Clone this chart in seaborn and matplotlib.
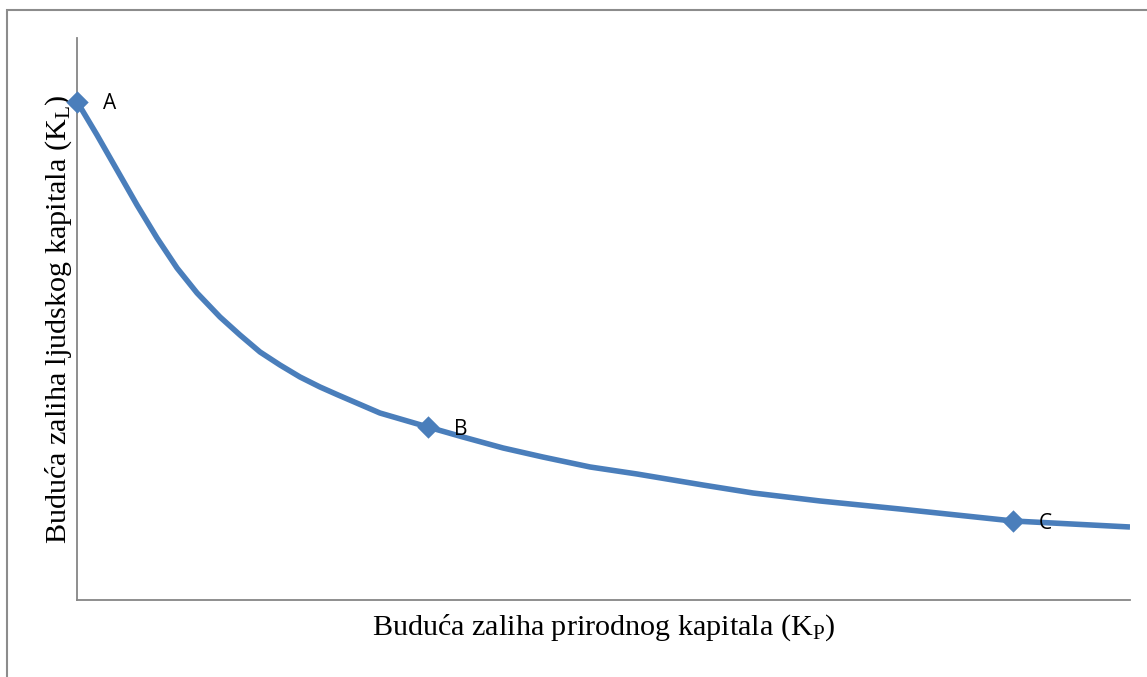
import matplotlib
matplotlib.use("Agg")
import matplotlib.pyplot as plt
import seaborn as sns
import pandas as pd
from matplotlib.patches import Rectangle

# Data (arbitrary units, no ticks shown)
kp = [0.0, 1.90, 3.80, 5.70, 7.60, 9.50, 11.40, 13.58, 15.48, 17.38, 19.28,
      21.18, 23.08, 24.79, 28.77, 33.33, 36.66, 40.46, 44.25, 48.72, 53.18,
      59.45, 64.20, 70.56, 78.16, 88.89, 100.0]
kl = [88.7, 82.74, 76.51, 70.28, 64.41, 59.07, 54.63, 50.36, 47.15, 44.13, 41.81,
      39.68, 37.90, 36.48, 33.27, 30.78, 29.00, 27.05, 25.44, 23.67, 22.42,
      20.46, 19.04, 17.62, 16.19, 14.06, 12.99]
point_labels = ["A", "B", "C"]
point_kp = [0.0, 33.33, 88.89]
point_kl = [88.7, 30.78, 14.06]

x_label = "Buduća zaliha prirodnog kapitala (K$_\\mathrm{P}$)"
y_label = "Buduća zaliha ljudskog kapitala (K$_\\mathrm{L}$)"

sns.set_theme(style="white")
plt.rcParams["font.family"] = ["Liberation Serif", "DejaVu Serif"]
plt.rcParams["mathtext.fontset"] = "custom"
plt.rcParams["mathtext.rm"] = "Liberation Serif"
plt.rcParams["mathtext.it"] = "Liberation Serif:italic"

blue = "#4A7EBB"

fig = plt.figure(figsize=(11.47, 6.77), dpi=100)
ax = fig.add_axes([77 / 1147, 77 / 677, (1130 - 77) / 1147, (600 - 38) / 677])

df = pd.DataFrame({"kp": kp, "kl": kl})
sns.lineplot(data=df, x="kp", y="kl", ax=ax, color=blue, linewidth=4.0,
             sort=False, solid_capstyle="butt", solid_joinstyle="round")
pts = pd.DataFrame({"kp": point_kp, "kl": point_kl})
sns.scatterplot(data=pts, x="kp", y="kl", ax=ax, color=blue, marker="D",
                s=130, edgecolor=blue, linewidth=0, zorder=5, clip_on=False)

for lab, x, y in zip(point_labels, point_kp, point_kl):
    ax.annotate(lab, (x, y), xytext=(18.5, -1.5), textcoords="offset points",
                ha="left", va="center", fontsize=15,
                family=["Open Sans", "DejaVu Sans"], color="black")

ax.set_xlim(0, 100)
ax.set_ylim(0, 100)
ax.set_xticks([])
ax.set_yticks([])
ax.set_xlabel(x_label, fontsize=21.7, labelpad=9, color="black")
ax.set_ylabel(y_label, fontsize=21.7, labelpad=2, color="black")
for s in ["top", "right"]:
    ax.spines[s].set_visible(False)
for s in ["left", "bottom"]:
    ax.spines[s].set_color("#868686")
    ax.spines[s].set_linewidth(1.3)

# outer chart-area border (cut at right/bottom in the reference)
fig.patches.append(Rectangle((7 / 1147, -0.1), 1.2, (677 - 10) / 677 + 0.1,
                             transform=fig.transFigure, fill=False,
                             edgecolor="#8C8C8C", linewidth=1.5))

fig.savefig("out.png", dpi=100)
